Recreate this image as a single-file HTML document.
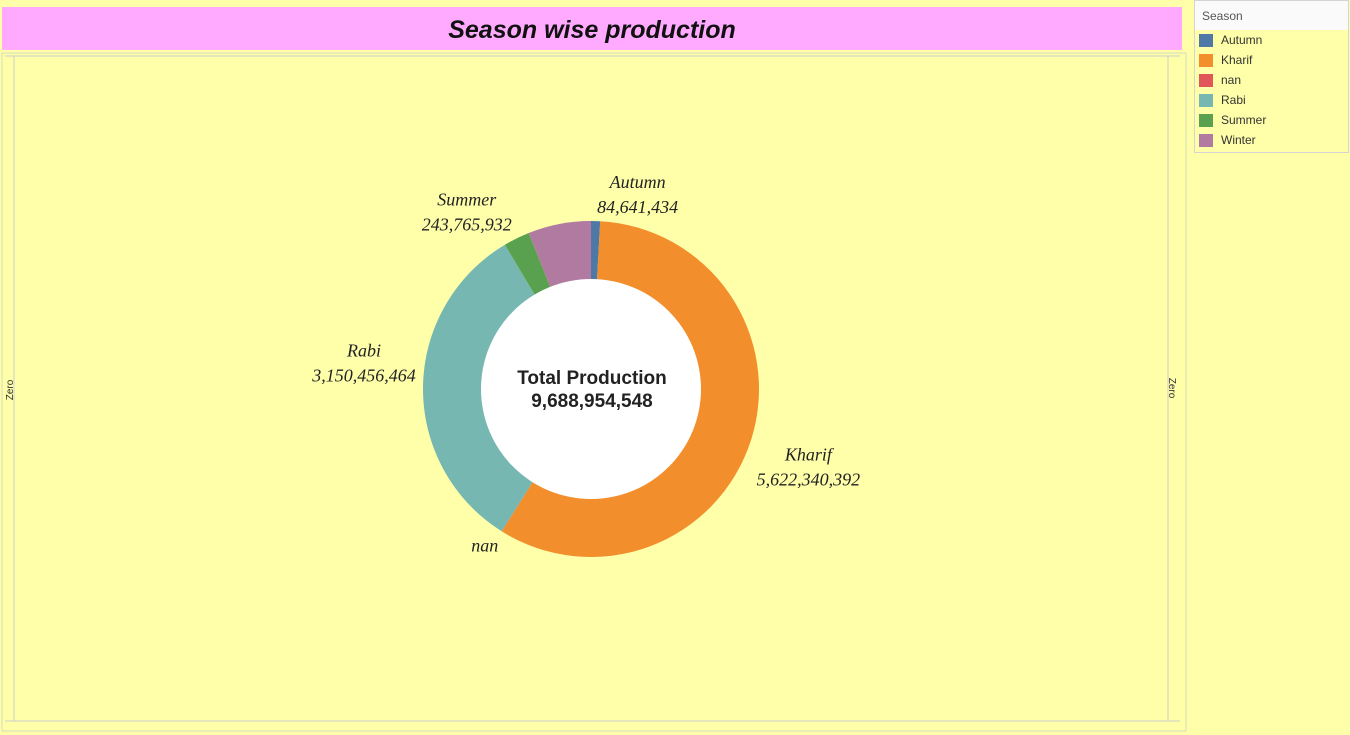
<!DOCTYPE html>
<html><head><meta charset="utf-8"><style>
body{margin:0;width:1350px;height:735px;background:#ffffaa;overflow:hidden;font-family:"Liberation Sans",sans-serif;position:relative}
#title{position:absolute;left:2px;top:7px;width:1180px;height:43px;background:#ffaaff;text-align:center;line-height:46px;font-size:25px;font-weight:bold;font-style:italic;color:#111}
#legend{position:absolute;left:1194px;top:0;width:153px;height:151px;border:1px solid #d4d4d4;background:#ffffaa;font-size:12px;color:#333}
#legend .hd{background:#fafafa;height:29px;line-height:31px;padding-left:7px;color:#555}
#legend .it{height:20px;line-height:20px;padding-left:4px;display:flex;align-items:center}
#legend .sw{width:14px;height:13px;margin-right:8px}
</style></head><body>
<div id="title">Season wise production</div>
<svg id="chart" width="1190" height="735" style="position:absolute;left:0;top:0">
<rect x="2" y="53" width="1184" height="678" fill="none" stroke="#d8d8c0"/>
<line x1="5" y1="56" x2="1180" y2="56" stroke="#ccc"/>
<line x1="5" y1="721" x2="1180" y2="721" stroke="#ccc"/>
<line x1="14" y1="56" x2="14" y2="721" stroke="#ccc"/>
<line x1="1168" y1="56" x2="1168" y2="721" stroke="#ccc"/>
<text x="13" y="390" font-size="10" transform="rotate(-90 13 390)" text-anchor="middle" fill="#333">Zero</text>
<text x="1169" y="388" font-size="10" transform="rotate(90 1169 388)" text-anchor="middle" fill="#333">Zero</text>
<g id="slices"></g>
<circle cx="591" cy="389" r="110" fill="#fff"/>
<text x="592" y="384" text-anchor="middle" font-size="19" font-weight="bold" fill="#222">Total Production</text>
<text x="592" y="407" text-anchor="middle" font-size="19" font-weight="bold" fill="#222">9,688,954,548</text>
<g id="labels" font-family="Liberation Serif,serif" font-style="italic" font-size="18" fill="#222"></g>
</svg>
<div id="legend"><div class="hd">Season</div></div>
<script>
const categories=["Autumn","Kharif","nan","Rabi","Summer","Winter"];
const values=[84641434,5622340392,1750326,3150456464,243765932,586000000];
const colors=["#4e79a7","#f28e2b","#e15759","#76b7b2","#59a14f","#b07aa1"];
const labelShown=[true,true,false,true,true,false];
const cx=591,cy=389,R=168;
const total=values.reduce((a,b)=>a+b,0);
const ns="http://www.w3.org/2000/svg";
const g=document.getElementById('slices'),lg=document.getElementById('labels');
function pt(a,r){return [cx+r*Math.sin(a),cy-r*Math.cos(a)];}
const fmt=v=>v.toLocaleString('en-US');
let acc=0;
values.forEach((v,i)=>{
  const a0=acc/total*2*Math.PI;acc+=v;const a1=acc/total*2*Math.PI;
  const p0=pt(a0,R),p1=pt(a1,R);
  const p=document.createElementNS(ns,'path');
  p.setAttribute('d',`M${cx},${cy}L${p0[0]},${p0[1]}A${R},${R} 0 ${a1-a0>Math.PI?1:0} 1 ${p1[0]},${p1[1]}Z`);
  p.setAttribute('fill',colors[i]);
  
  
  g.appendChild(p);
  const am=(a0+a1)/2;
  let lp=pt(am,R+(i===2?0:38));
  const t=document.createElementNS(ns,'text');
  t.setAttribute('text-anchor','middle');
  
  
  if(i===2){t.setAttribute('x',lp[0]-17);t.setAttribute('y',lp[1]+20);t.textContent='nan';lg.appendChild(t);}
  else if(labelShown[i]){
    let x=lp[0],y=lp[1];
    if(i===0){x+=41;y+=5;} if(i===1){x+=21;y+=9;} if(i===3){x-=21;y+=-30;} if(i===4){x-=33;y+=1;}
    t.setAttribute('x',x);t.setAttribute('y',y);
    const s1=document.createElementNS(ns,'tspan');s1.setAttribute('x',x);s1.textContent=categories[i];
    const s2=document.createElementNS(ns,'tspan');s2.setAttribute('x',x);s2.setAttribute('dy','25');s2.textContent=fmt(v);
    t.appendChild(s1);t.appendChild(s2);lg.appendChild(t);
  }
  const leg=document.getElementById('legend');
  const it=document.createElement('div');it.className='it';
  
  
  it.innerHTML=`<span class="sw" style="background:${colors[i]}"></span>${categories[i]}`;
  leg.appendChild(it);
});
</script>
</body></html>
